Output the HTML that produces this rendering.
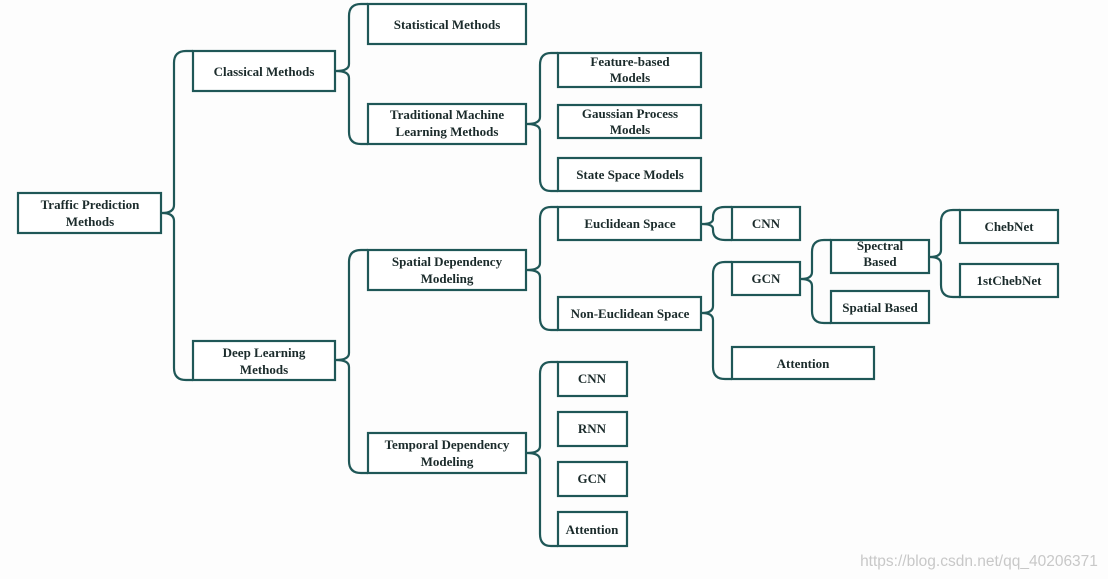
<!DOCTYPE html>
<html><head><meta charset="utf-8"><style>
html,body{margin:0;padding:0;background:#fdfdfd;}
svg{display:block;}
text{font-family:"Liberation Serif",serif;font-weight:bold;font-size:13px;fill:#1b2b2b;text-anchor:middle;}
.b{fill:#fff;stroke:#1f5757;stroke-width:2.2;}
.l{fill:none;stroke:#1f5757;stroke-width:2.2;}
</style></head><body>
<svg width="1108" height="579" viewBox="0 0 1108 579">
<path class="l" d="M193,51 H186 Q174,51 174,63 V205 Q174,213 162,213 Q174,213 174,221 V368 Q174,380 186,380 H193"/>
<path class="l" d="M368,4 H361 Q349,4 349,16 V64 Q349,71 336,71 Q349,71 349,78 V132 Q349,144 361,144 H368"/>
<path class="l" d="M368,250 H361 Q349,250 349,262 V353 Q349,360 336,360 Q349,360 349,367 V461 Q349,473 361,473 H368"/>
<path class="l" d="M558,53 H551 Q540,53 540,65 V117 Q540,124 527,124 Q540,124 540,131 V179 Q540,191 551,191 H558"/>
<path class="l" d="M558,207 H551 Q540,207 540,219 V263 Q540,270 527,270 Q540,270 540,277 V318 Q540,330 551,330 H558"/>
<path class="l" d="M558,362 H551 Q540,362 540,374 V446 Q540,453 527,453 Q540,453 540,460 V534 Q540,546 551,546 H558"/>
<path class="l" d="M732,207 H725 Q713,207 713,217 V219 Q713,224 702,224 Q713,224 713,229 V230 Q713,240 725,240 H732"/>
<path class="l" d="M732,262 H725 Q713,262 713,274 V306 Q713,313 702,313 Q713,313 713,320 V367 Q713,379 725,379 H732"/>
<path class="l" d="M831,240 H824 Q812,240 812,252 V272 Q812,279 801,279 Q812,279 812,286 V311 Q812,323 824,323 H831"/>
<path class="l" d="M960,210 H953 Q941,210 941,222 V250 Q941,257 930,257 Q941,257 941,264 V285 Q941,297 953,297 H960"/>
<rect class="b" x="18" y="193" width="143" height="40"/>
<text x="90" y="209">Traffic Prediction</text><text x="90" y="226">Methods</text>
<rect class="b" x="193" y="51" width="142" height="40"/>
<text x="264" y="76">Classical Methods</text>
<rect class="b" x="193" y="341" width="142" height="39"/>
<text x="264" y="357">Deep Learning</text><text x="264" y="374">Methods</text>
<rect class="b" x="368" y="4" width="158" height="40"/>
<text x="447" y="29">Statistical Methods</text>
<rect class="b" x="368" y="104" width="158" height="40"/>
<text x="447" y="119">Traditional Machine</text><text x="447" y="136">Learning Methods</text>
<rect class="b" x="368" y="250" width="158" height="40"/>
<text x="447" y="266">Spatial Dependency</text><text x="447" y="283">Modeling</text>
<rect class="b" x="368" y="433" width="158" height="40"/>
<text x="447" y="449">Temporal Dependency</text><text x="447" y="466">Modeling</text>
<rect class="b" x="558" y="53" width="143" height="34"/>
<text x="630" y="66">Feature-based</text><text x="630" y="82">Models</text>
<rect class="b" x="558" y="105" width="143" height="33"/>
<text x="630" y="118">Gaussian Process</text><text x="630" y="134">Models</text>
<rect class="b" x="558" y="158" width="143" height="33"/>
<text x="630" y="179">State Space Models</text>
<rect class="b" x="558" y="207" width="143" height="33"/>
<text x="630" y="228">Euclidean Space</text>
<rect class="b" x="558" y="297" width="143" height="33"/>
<text x="630" y="318">Non-Euclidean Space</text>
<rect class="b" x="558" y="362" width="69" height="34"/><text x="592" y="383">CNN</text>
<rect class="b" x="558" y="412" width="69" height="34"/><text x="592" y="433">RNN</text>
<rect class="b" x="558" y="462" width="69" height="34"/><text x="592" y="483">GCN</text>
<rect class="b" x="558" y="512" width="69" height="34"/><text x="592" y="534">Attention</text>
<rect class="b" x="732" y="207" width="68" height="33"/><text x="766" y="228">CNN</text>
<rect class="b" x="732" y="262" width="68" height="33"/><text x="766" y="283">GCN</text>
<rect class="b" x="732" y="347" width="142" height="32"/><text x="803" y="368">Attention</text>
<rect class="b" x="831" y="240" width="98" height="33"/>
<text x="880" y="250">Spectral</text><text x="880" y="266">Based</text>
<rect class="b" x="831" y="291" width="98" height="32"/><text x="880" y="312">Spatial Based</text>
<rect class="b" x="960" y="210" width="98" height="33"/><text x="1009" y="231">ChebNet</text>
<rect class="b" x="960" y="264" width="98" height="33"/><text x="1009" y="285">1stChebNet</text>
<text x="979" y="566" style="font-family:'Liberation Sans',sans-serif;font-weight:normal;font-size:15.5px;fill:#c8c8c8;">https://blog.csdn.net/qq_40206371</text>
</svg>
</body></html>
